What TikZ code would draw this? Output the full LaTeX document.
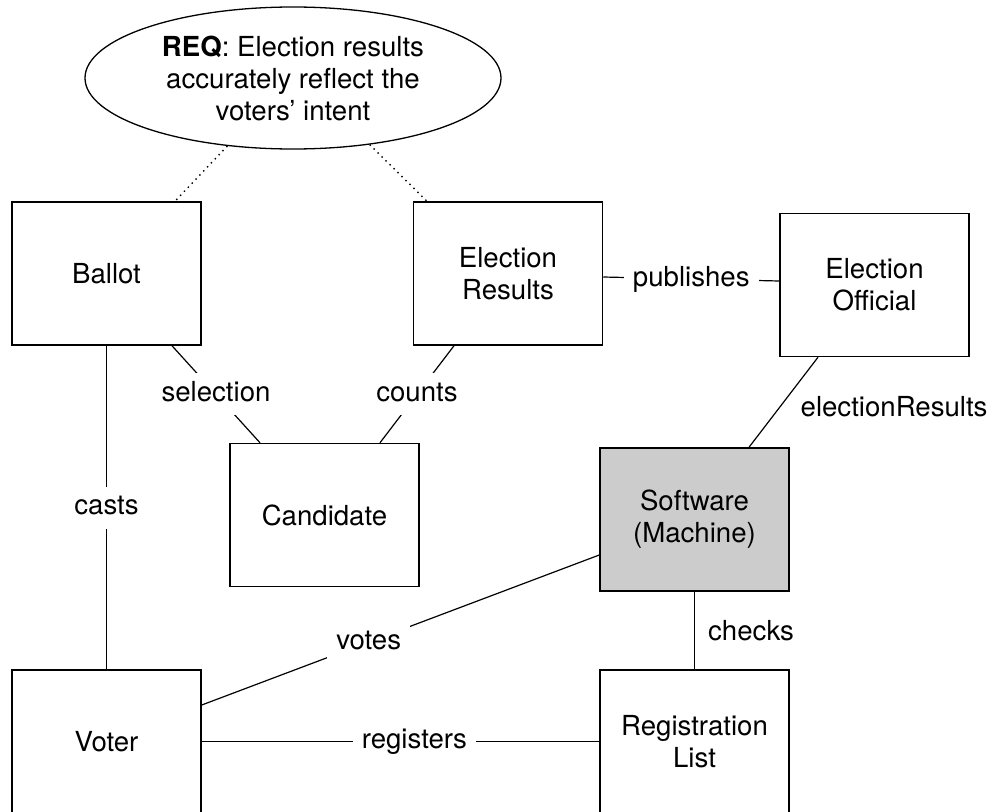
\documentclass[tikz,border=0pt]{standalone}
\usepackage{fontspec}
\setmainfont{TeX Gyre Heros}
\usetikzlibrary{shapes.geometric}
\definecolor{machinegray}{HTML}{CCCCCC}
\begin{document}
\begin{tikzpicture}[x=1pt,y=-1pt,
  every node/.style={font=\fontsize{27.6}{32}\selectfont},
  entity/.style={draw=black, line width=1.5pt, minimum width=189pt,
    minimum height=143pt, align=center, inner sep=0pt},
  machine/.style={entity, fill=machinegray},
  req/.style={ellipse, draw=black, line width=1.3pt, minimum width=416pt,
    minimum height=142pt, align=center, inner sep=0pt},
  link/.style={line width=1.2pt},
  trace/.style={line width=1.4pt, dash pattern=on 1.4pt off 4.2pt},
  lbl/.style={fill=white, inner sep=9pt, text height=19pt, text depth=5pt},
  side/.style={inner sep=3pt}
]
\clip (0,0) rectangle (992,811);

% requirement
\node[req] (req) at (293,78) {\textbf{REQ}: Election results\\accurately reflect the\\voters’ intent};

% domain entities
\node[entity] (ballot)    at (106.5,273.5) {Ballot};
\node[entity] (results)   at (508,273.5)   {Election\\Results};
\node[entity] (official)  at (874.5,285)   {Election\\Official};
\node[entity] (candidate) at (324.5,515)   {Candidate};
\node[machine] (software) at (694.5,519.5) {Software\\(Machine)};
\node[entity] (voter)     at (106.5,741.5) {Voter};
\node[entity] (reglist)   at (694.5,741.5) {Registration\\List};

% requirement references
\draw[trace] (req.226) -- ([xshift=68.5pt]ballot.north);
\draw[trace] (req.319) -- ([xshift=-81pt]results.north);

% associations
\draw[link] ([xshift=65.5pt]ballot.south) -- node[lbl]{selection} ([xshift=-64.5pt]candidate.north);
\draw[link] ([xshift=-54pt]results.south) -- node[lbl]{counts} ([xshift=55.5pt]candidate.north);
\draw[link] (ballot.south) -- node[lbl]{casts} (voter.north);
\draw[link] ([yshift=-3.5pt]results.east) -- node[lbl]{publishes} ([yshift=4pt]official.west);
\draw[link] ([xshift=-56.5pt]official.south) -- node[side, pos=.55, anchor=west, xshift=17pt]{electionResults} ([xshift=54.5pt]software.north);
\draw[link] ([yshift=-35.5pt]software.west) -- node[lbl, pos=.58]{votes} ([yshift=36.5pt]voter.east);
\draw[link] (software.south) -- node[side, midway, anchor=west, xshift=10pt]{checks} (reglist.north);
\draw[link] (voter.east) -- node[lbl, pos=.535]{registers} (reglist.west);
\end{tikzpicture}
\end{document}
